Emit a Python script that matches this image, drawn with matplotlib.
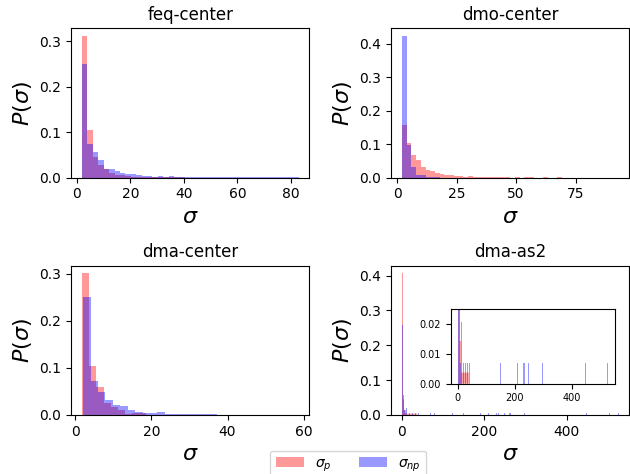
import matplotlib
matplotlib.use('Agg')
import matplotlib.pyplot as plt
import numpy as np

# histogram heights (density), one value per bin
feq_start, feq_width = 2.0, 2.02
feq_red = [0.312, 0.105, 0.045, 0.028, 0.019, 0.010, 0.006, 0.005, 0.003, 0.002,
           0.002, 0.001, 0.001, 0.001, 0.001, 0.0005, 0.001, 0.0005, 0.0005, 0.0,
           0.0, 0.0, 0.0, 0.0, 0.0, 0.0, 0.0, 0.0, 0.0, 0.0,
           0.0, 0.0, 0.0, 0.0, 0.0, 0.0, 0.0, 0.0, 0.0, 0.0]
feq_blue = [0.249, 0.074, 0.057, 0.039, 0.019, 0.019, 0.015, 0.010, 0.008, 0.008,
            0.006, 0.004, 0.004, 0.002, 0.004, 0.002, 0.003, 0.002, 0.001, 0.0015,
            0.001, 0.0015, 0.001, 0.001, 0.0015, 0.001, 0.001, 0.0015, 0.001, 0.001,
            0.001, 0.0005, 0.001, 0.001, 0.0005, 0.001, 0.0005, 0.0005, 0.001, 0.001]

dmo_start, dmo_width = 2.0, 1.98
dmo_red = [0.158, 0.104, 0.068, 0.053, 0.031, 0.022, 0.020, 0.013, 0.011, 0.008,
           0.007, 0.005, 0.004, 0.003, 0.005, 0.002, 0.002, 0.001, 0.0015, 0.001,
           0.001, 0.001, 0.001, 0.0005, 0.001, 0.0005, 0.001, 0.001, 0.0005, 0.0005,
           0.001, 0.0005, 0.0005, 0.001, 0.0005, 0.0005, 0.0005, 0.0005, 0.0005, 0.0005,
           0.0005, 0.0005, 0.0005, 0.0005, 0.0005, 0.0005]
dmo_blue = [0.425, 0.098, 0.032, 0.008, 0.008, 0.002, 0.001, 0.001, 0.0005, 0.0005,
            0.0005, 0.0, 0.0, 0.0, 0.0005, 0.0, 0.0, 0.0, 0.0, 0.0005]

dma_red_start, dma_red_width = 1.8, 1.88
dma_red = [0.302, 0.105, 0.060, 0.025, 0.017, 0.010, 0.002, 0.005, 0.004, 0.001,
           0.001, 0.0005, 0.0005, 0.0005, 0.0, 0.0, 0.0005, 0.0, 0.0, 0.0005]
dma_blue_start, dma_blue_width = 2.1, 1.95
dma_blue = [0.250, 0.073, 0.049, 0.032, 0.021, 0.019, 0.011, 0.006, 0.004, 0.004,
            0.006, 0.003, 0.003, 0.0015, 0.0015, 0.0015, 0.0015, 0.0015, 0.001, 0.0005,
            0.0005, 0.0, 0.0005, 0.0, 0.0, 0.0005, 0.0, 0.0, 0.0005]

as2_width = 2.5
as2_red_left = [1.0, 3.5, 6.0, 8.5, 11.0, 13.5, 16.0, 18.5, 21.0, 23.5, 26.0, 28.5,
                31.0, 33.5, 36.0]
as2_red = [0.408, 0.045, 0.0143, 0.0143, 0.0037, 0.0037, 0.0037, 0.0037, 0.0037,
           0.0037, 0.0037, 0.0037, 0.0037, 0.0037, 0.0037]
as2_blue_left = [1.0, 3.5, 6.0, 8.5, 11.0, 18.8, 24.6, 31.7, 38.7, 69.2, 79.8, 122,
                 149, 189, 209, 229, 233.5, 247.7, 259.5, 263, 297, 446, 502, 523.6]
as2_blue = [0.257, 0.056, 0.0135, 0.0068, 0.0205, 0.0068, 0.0068, 0.0068, 0.0068,
            0.0068, 0.0068, 0.0068, 0.0068, 0.0068, 0.0068, 0.0068, 0.0068, 0.0068,
            0.0068, 0.0068, 0.0068, 0.0068, 0.0068, 0.0068]

titles = ['feq-center', 'dmo-center', 'dma-center', 'dma-as2']


def draw_hist(ax, left, width, heights, color, label=None, snap=None):
    return ax.bar(left, heights, width=width, align='edge', color=color,
                  alpha=0.4, linewidth=0, label=label, snap=snap)


def binned(start, width, heights):
    return start + width * np.arange(len(heights))


fig, axes = plt.subplots(2, 2, figsize=(6.3, 4.74), dpi=100)
ax1, ax2, ax3, ax4 = axes.flatten()

h_red = draw_hist(ax1, binned(feq_start, feq_width, feq_red), feq_width, feq_red, 'r', r'$\sigma_p$')
h_blue = draw_hist(ax1, binned(feq_start, feq_width, feq_blue), feq_width, feq_blue, 'b', r'$\sigma_{np}$')

draw_hist(ax2, binned(dmo_start, dmo_width, dmo_red), dmo_width, dmo_red, 'r')
draw_hist(ax2, binned(dmo_start, dmo_width, dmo_blue), dmo_width, dmo_blue, 'b')

draw_hist(ax3, binned(dma_red_start, dma_red_width, dma_red), dma_red_width, dma_red, 'r')
draw_hist(ax3, binned(dma_blue_start, dma_blue_width, dma_blue), dma_blue_width, dma_blue, 'b')

draw_hist(ax4, as2_red_left, as2_width, as2_red, 'r', snap=False)
draw_hist(ax4, as2_blue_left, as2_width, as2_blue, 'b')
ax2.set_xticks([0, 25, 50, 75])

for ax, t in zip(axes.flatten(), titles):
    ax.set_title(t, fontsize=12)
    ax.set_xlabel(r'$\sigma$', fontsize=16)
    ax.set_ylabel(r'$P(\sigma)$', fontsize=16)

# zoomed inset for the long tail
axin = ax4.inset_axes([0.25, 0.21, 0.69, 0.5])
draw_hist(axin, as2_red_left, as2_width, as2_red, 'r', snap=False)
draw_hist(axin, as2_blue_left, as2_width, as2_blue, 'b')
axin.set_ylim(0, 0.025)
axin.set_yticks([0, 0.01, 0.02])
axin.set_xticks([0, 200, 400])
axin.tick_params(labelsize=7)

fig.subplots_adjust(left=0.113, right=0.999, top=0.94, bottom=0.1245,
                    wspace=0.343, hspace=0.59)
fig.legend(handles=[h_red, h_blue], loc='upper center', bbox_to_anchor=(0.553, 0.064),
           ncol=2)

plt.savefig('out.png', dpi=100)
